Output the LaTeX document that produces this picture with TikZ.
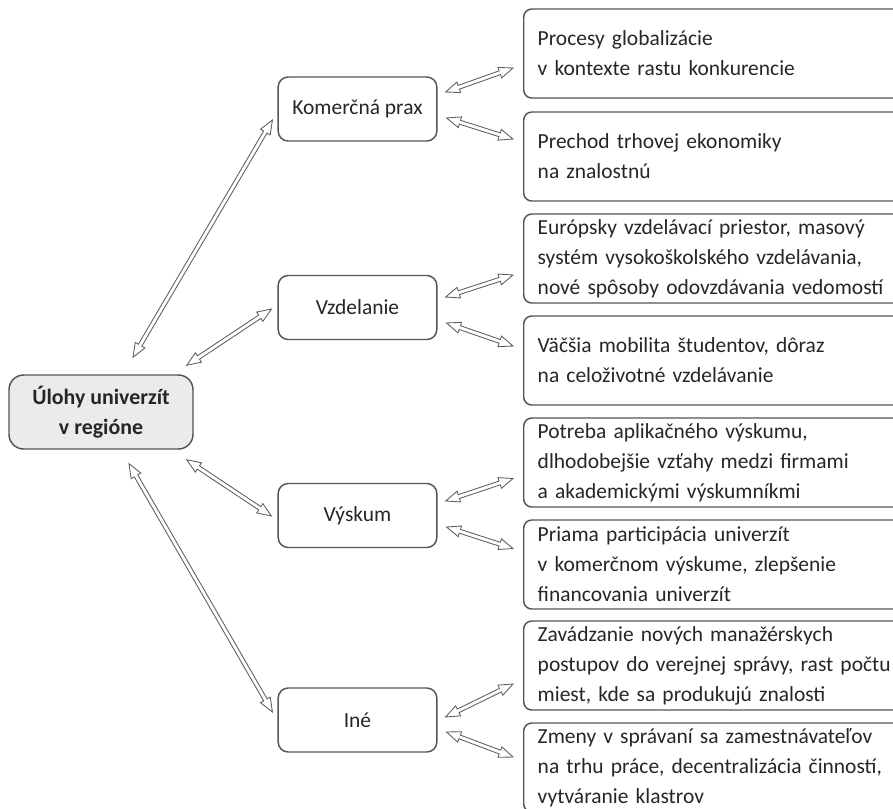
\documentclass[tikz,border=0pt]{standalone}
\usepackage{fontspec}
\setmainfont{Carlito}
\usetikzlibrary{calc}
\definecolor{boxgray}{HTML}{555555}
\definecolor{linkgray}{HTML}{5F5F5F}
\definecolor{rootfill}{HTML}{EBEBEB}
\tikzset{
    basenode/.style = {
        rectangle,
        draw=boxgray,
        line width=1.1pt,
        text=black!85,
        font=\fontsize{16.1}{22.5}\selectfont
    },
    rootnode/.style = {
        basenode,
        fill=rootfill,
        align=center,
        rounded corners=11pt,
        minimum width=138pt,
        minimum height=55.5pt,
        font=\fontsize{16.4}{23}\selectfont\bfseries
    },
    areanode/.style = {
        basenode,
        align=center,
        rounded corners=7.5pt,
        minimum width=119pt,
        minimum height=48pt
    },
    notenode/.style = {
        basenode,
        anchor=west,
        align=left,
        text width=300pt,
        inner xsep=10.5pt,
        inner ysep=1pt,
        rounded corners=6pt,
        minimum height=66.75pt
    },
    twoway/.style = {
        draw=linkgray,
        fill=white,
        line width=0.65pt,
        line join=miter,
        to path={
            -- ($(\tikztostart)!10.5pt!(\tikztotarget)!4.2pt!90:(\tikztotarget)$)
            -- ($(\tikztostart)!10.5pt!(\tikztotarget)!1.5pt!90:(\tikztotarget)$)
            -- ($(\tikztotarget)!10.5pt!(\tikztostart)!1.5pt!-90:(\tikztostart)$)
            -- ($(\tikztotarget)!10.5pt!(\tikztostart)!4.2pt!-90:(\tikztostart)$)
            -- (\tikztotarget)
            -- ($(\tikztotarget)!10.5pt!(\tikztostart)!4.2pt!90:(\tikztostart)$)
            -- ($(\tikztotarget)!10.5pt!(\tikztostart)!1.5pt!90:(\tikztostart)$)
            -- ($(\tikztostart)!10.5pt!(\tikztotarget)!1.5pt!-90:(\tikztotarget)$)
            -- ($(\tikztostart)!10.5pt!(\tikztotarget)!4.2pt!-90:(\tikztotarget)$)
            -- cycle
        }
    }
}

\begin{document}
\begin{tikzpicture}[x=0.75pt, y=-0.75pt]
    \clip (0,0) rectangle (893,808);

    \node [rootnode] (ulohy) at (101,412) {Úlohy univerzít\\v regióne};

    \node [areanode] (prax) at (357.5,109) {Komerčná prax};
    \node [areanode] (vzdel) at (357.5,307.5) {Vzdelanie};
    \node [areanode] (vyskum) at (357.5,515.5) {Výskum};
    \node [areanode] (ine) at (357.5,720) {Iné};

    \node [notenode] (glob) at (523,53.5) {Procesy globalizácie\\v kontexte rastu konkurencie};
    \node [notenode] (trh) at (523,156.5) {Prechod trhovej ekonomiky\\na znalostnú};
    \node [notenode] (eur) at (523,258.5) {Európsky vzdelávací priestor, masový\\systém vysokoškolského vzdelávania,\\nové spôsoby odovzdávania vedomostí};
    \node [notenode] (mobil) at (523,360.5) {Väčšia mobilita študentov, dôraz\\na celoživotné vzdelávanie};
    \node [notenode] (aplik) at (523,462.5) {Potreba aplikačného výskumu,\\dlhodobejšie vzťahy medzi firmami\\a akademickými výskumníkmi};
    \node [notenode] (partic) at (523,564.5) {Priama participácia univerzít\\v komerčnom výskume, zlepšenie\\financovania univerzít};
    \node [notenode] (manaz) at (523,665.5) {Zavádzanie nových manažérskych\\postupov do verejnej správy, rast počtu\\miest, kde sa produkujú znalosti};
    \node [notenode] (zamest) at (523,767.5) {Zmeny v správaní sa zamestnávateľov\\na trhu práce, decentralizácia činností,\\vytváranie klastrov};

    \path [twoway] ([shift={(32,-17)}]ulohy.north) to ([shift={(-5,11)}]prax.west);
    \path [twoway] ([shift={(-7,-9)}]ulohy.north east) to ([shift={(-6,1.5)}]vzdel.west);
    \path [twoway] ([shift={(-7,10)}]ulohy.south east) to ([shift={(-6,0.5)}]vyskum.west);
    \path [twoway] ([shift={(28,14)}]ulohy.south) to ([shift={(-5,-8)}]ine.west);

    \path [twoway] ([shift={(8,-17)}]prax.east) to ([shift={(-10,14.5)}]glob.west);
    \path [twoway] ([shift={(9,9)}]prax.east) to ([shift={(-10,-17.5)}]trh.west);
    \path [twoway] ([shift={(8,-10.5)}]vzdel.east) to ([shift={(-10,16.5)}]eur.west);
    \path [twoway] ([shift={(9,15.5)}]vzdel.east) to ([shift={(-10,-14.5)}]mobil.west);
    \path [twoway] ([shift={(8,-14.5)}]vyskum.east) to ([shift={(-10,16)}]aplik.west);
    \path [twoway] ([shift={(9,11.5)}]vyskum.east) to ([shift={(-10,-16)}]partic.west);
    \path [twoway] ([shift={(8,-3)}]ine.east) to ([shift={(-10,18.5)}]manaz.west);
    \path [twoway] ([shift={(9,12)}]ine.east) to ([shift={(-10,-10.5)}]zamest.west);
\end{tikzpicture}
\end{document}
